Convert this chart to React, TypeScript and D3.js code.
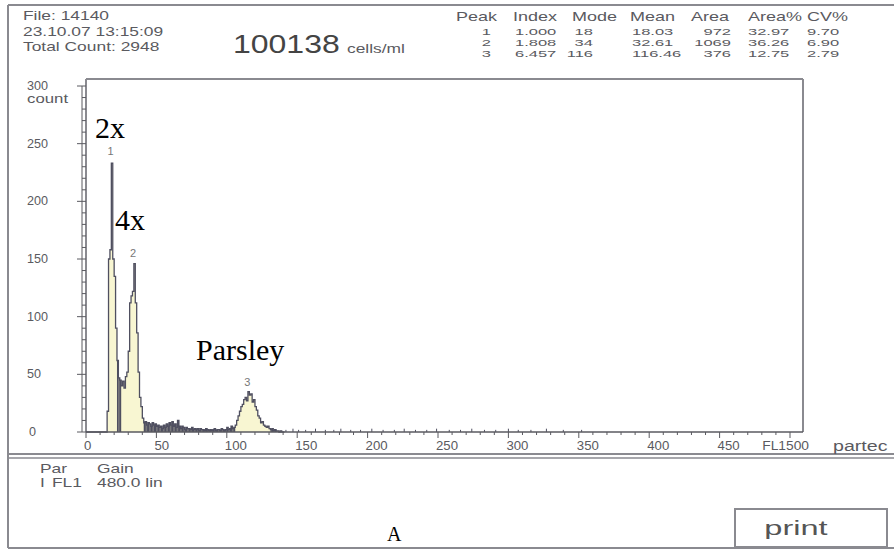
import React from "react";
import { scaleLinear, area, line, curveStepAfter, range } from "d3";

// histogram counts per channel, channel 0..140
const counts: number[] = [
  0, 0, 0, 0, 0, 0, 0, 0, 0, 0, 0, 0, 0, 0, 0,
  18, 150, 158, 233, 150, 135, 90, 62, 47, 45, 40, 44, 38, 48, 52,
  70, 112, 118, 122, 146, 112, 86, 52, 30, 22, 12,
  8, 9, 6, 8, 7, 5, 8, 6, 7, 5, 6, 4, 5, 3, 6, 4, 7, 5, 8, 6,
  9, 5, 7, 4, 10, 5, 3, 5, 4, 2, 4, 3, 3, 2, 4, 2, 3, 2, 3, 1,
  3, 2, 2, 1, 3, 2, 1, 2, 1, 2, 3, 1, 2, 2, 1, 3, 2, 1, 2, 4,
  2, 3, 5, 3, 4, 6, 10, 14, 18, 22, 24, 28, 30, 27, 35, 32,
  33, 26, 28, 22, 19, 14, 12, 8, 9, 6, 5, 4, 5, 3, 2, 3,
  1, 2, 1, 1, 0, 1, 0, 0,
];

// sparse single events further out
const tailChannels = [142, 147, 151, 156, 163, 170, 176, 181, 188, 195, 203, 211, 219, 226, 234, 242, 249, 258, 266, 274, 283, 291, 300, 307, 316, 327, 339, 352];
const tailCounts = [1, 2, 1, 1, 2, 1, 1, 2, 1, 1, 2, 1, 1, 2, 1, 1, 2, 1, 1, 2, 1, 1, 2, 1, 1, 2, 1, 1];

// gated peak regions [from, to) drawn light
const peakRegions: [number, number][] = [[15, 22], [25, 41], [106, 131]];
const peakLabels = ["1", "2", "3"];
const peakLabelChannel = [17.5, 33.5, 114.5];
const peakLabelCount = [240, 152, 40];

const yTicks = [0, 50, 100, 150, 200, 250, 300];
const xTicks = [0, 50, 100, 150, 200, 250, 300, 350, 400, 450];

const infoLines = ["File: 14140", "23.10.07 13:15:09", "Total Count:  2948"];
const tablePeak = ["1", "2", "3"];
const tableIndex = ["1.000", "1.808", "6.457"];
const tableMode = ["18", "34", "116"];
const tableMean = ["18.03", "32.61", "116.46"];
const tableArea = ["972", "1069", "376"];
const tableAreaPct = ["32.97", "36.26", "12.75"];
const tableCV = ["9.70", "6.90", "2.79"];

const W = 894;
const H = 551;
const textCol = "#5a5a60";
const frameCol = "#8a8a90";
const histStroke = "#4f4f60";
const histFill = "#f8f6d2";
const sans = "'Liberation Sans', Arial, sans-serif";
const serif = "'Liberation Serif', 'Times New Roman', serif";

// the printer font is wide, so text is stretched horizontally
const S = ({
  x, y, size, sx = 1.45, anchor = "start", fill = textCol, children,
}: {
  x: number; y: number; size: number; sx?: number; anchor?: string; fill?: string; children: React.ReactNode;
}) => (
  <text
    transform={`translate(${x},${y}) scale(${sx},1)`}
    fontSize={size}
    fill={fill}
    textAnchor={anchor as any}
  >
    {children}
  </text>
);

export default function App() {
  const x = scaleLinear().domain([0, 500]).range([86, 790]);
  const y = scaleLinear().domain([0, 300]).range([432, 86]);

  const pts = counts.map((c, i) => [i, c] as [number, number]);
  pts.push([counts.length, 0]);

  const areaGen = area<[number, number]>()
    .x((d) => x(d[0]))
    .y0(y(0))
    .y1((d) => y(d[1]))
    .curve(curveStepAfter);
  const lineGen = line<[number, number]>()
    .x((d) => x(d[0]))
    .y((d) => y(d[1]))
    .curve(curveStepAfter);

  const inPeak = (i: number) => peakRegions.some(([a, b]) => i >= a && i < b);

  const minorY = range(0, 301, 10);
  const minorX = range(0, 501, 10);

  const headerCols: [string, number][] = [
    ["Peak", 456],
    ["Index", 513],
    ["Mode", 572],
    ["Mean", 630],
    ["Area", 691],
    ["Area%", 748],
    ["CV%", 807],
  ];
  const rowCols: [string[], number, string][] = [
    [tablePeak, 491, "end"],
    [tableIndex, 515, "start"],
    [tableMode, 593, "end"],
    [tableMean, 632, "start"],
    [tableArea, 731, "end"],
    [tableAreaPct, 748, "start"],
    [tableCV, 807, "start"],
  ];

  return (
    <svg
      width={W}
      height={H}
      style={{ position: "absolute", left: 0, top: 0, background: "#fff" }}
      fontFamily={sans}
    >
      {/* outer frame */}
      <g stroke={frameCol} strokeWidth={2} fill="none">
        <line x1={8} y1={5} x2={W} y2={5} />
        <line x1={8} y1={5} x2={8} y2={548} />
        <line x1={8} y1={548} x2={W} y2={548} />
        <line x1={8} y1={454} x2={W} y2={454} />
        <line x1={8} y1={458} x2={W} y2={458} strokeWidth={1.5} />
      </g>

      {/* header info */}
      {infoLines.map((t, i) => (
        <S key={t} x={23} y={20 + i * 15.5} size={12}>
          {t}
        </S>
      ))}
      <S x={233} y={53} size={25} sx={1.28} fill="#444">
        100138
      </S>
      <S x={347} y={53} size={12}>
        cells/ml
      </S>

      {headerCols.map(([t, cx]) => (
        <S key={t} x={cx} y={21} size={12} sx={1.5}>
          {t}
        </S>
      ))}
      {rowCols.map(([vals, cx, anchor], ci) =>
        vals.map((v, ri) => (
          <S key={ci + "-" + ri} x={cx} y={34.5 + ri * 11} size={9.6} sx={1.72} anchor={anchor}>
            {v}
          </S>
        ))
      )}

      {/* plot frame */}
      <g stroke={frameCol} strokeWidth={2} fill="none">
        <line x1={86} y1={79} x2={803} y2={79} />
        <line x1={803} y1={79} x2={803} y2={432} />
        <line x1={86} y1={79} x2={86} y2={432} />
      </g>

      {/* histogram */}
      <path d={areaGen(pts) || ""} fill={histFill} />
      {counts.map((c, i) =>
        !inPeak(i) && c > 0 ? (
          <rect
            key={"d" + i}
            x={x(i)}
            y={y(c)}
            width={x(i + 1) - x(i)}
            height={y(0) - y(c)}
            fill={histStroke}
          />
        ) : null
      )}
      <path d={lineGen(pts) || ""} fill="none" stroke={histStroke} strokeWidth={1.3} />
      {tailChannels.map((ch, i) => (
        <line
          key={"t" + ch}
          x1={x(ch)}
          x2={x(ch)}
          y1={y(0)}
          y2={y(tailCounts[i]) - 1}
          stroke={histStroke}
          strokeWidth={1}
        />
      ))}

      {/* peak labels */}
      {peakLabels.map((t, i) => (
        <text
          key={"p" + t}
          x={x(peakLabelChannel[i])}
          y={y(peakLabelCount[i])}
          fontSize={11}
          fill="#777"
          textAnchor="middle"
        >
          {t}
        </text>
      ))}

      {/* y axis */}
      <g stroke={textCol} strokeWidth={1}>
        <line x1={82} y1={y(300)} x2={82} y2={y(0)} />
        {minorY.map((v) => (
          <line key={"my" + v} x1={v % 50 === 0 ? 77 : 82} x2={86} y1={y(v)} y2={y(v)} />
        ))}
      </g>
      {yTicks.map((v) => (
        <S key={"yl" + v} x={v === 0 ? 29 : 27} y={y(v) + 4} size={12} sx={1.05}>
          {v}
        </S>
      ))}
      <S x={27} y={y(300) + 17} size={12} sx={1.4}>
        count
      </S>

      {/* x axis */}
      <g stroke={textCol} strokeWidth={1}>
        <line x1={86} y1={432} x2={803} y2={432} strokeWidth={1.5} />
        {minorX.map((v) => (
          <line key={"mx" + v} x1={x(v)} x2={x(v)} y1={432} y2={v % 50 === 0 ? 438 : 435} />
        ))}
      </g>
      {xTicks.map((v) => (
        <S key={"xl" + v} x={x(v) - 2} y={450} size={12} sx={1.1}>
          {v}
        </S>
      ))}
      <S x={809} y={450} size={12} sx={1.15} anchor="end">
        FL1500
      </S>
      <S x={833} y={451} size={14} sx={1.4}>
        partec
      </S>

      {/* annotations */}
      <text x={95} y={138} fontSize={30} fontFamily={serif} fill="#000">
        2x
      </text>
      <text x={115} y={230} fontSize={30} fontFamily={serif} fill="#000">
        4x
      </text>
      <text x={196} y={360} fontSize={30} fontFamily={serif} fill="#000">
        Parsley
      </text>

      {/* bottom panel */}
      <S x={40} y={473} size={12}>
        Par
      </S>
      <S x={97} y={473} size={12}>
        Gain
      </S>
      <S x={40} y={487} size={12}>
        I
      </S>
      <S x={52} y={487} size={12}>
        FL1
      </S>
      <S x={97} y={487} size={12}>
        480.0 lin
      </S>
      <text x={387} y={541} fontSize={20} fontFamily={serif} fill="#000">
        A
      </text>
      <rect x={735} y={509} width={152} height={38} fill="none" stroke={frameCol} strokeWidth={2} />
      <S x={796} y={535} size={21} sx={1.55} anchor="middle" fill="#555">
        print
      </S>
    </svg>
  );
}
